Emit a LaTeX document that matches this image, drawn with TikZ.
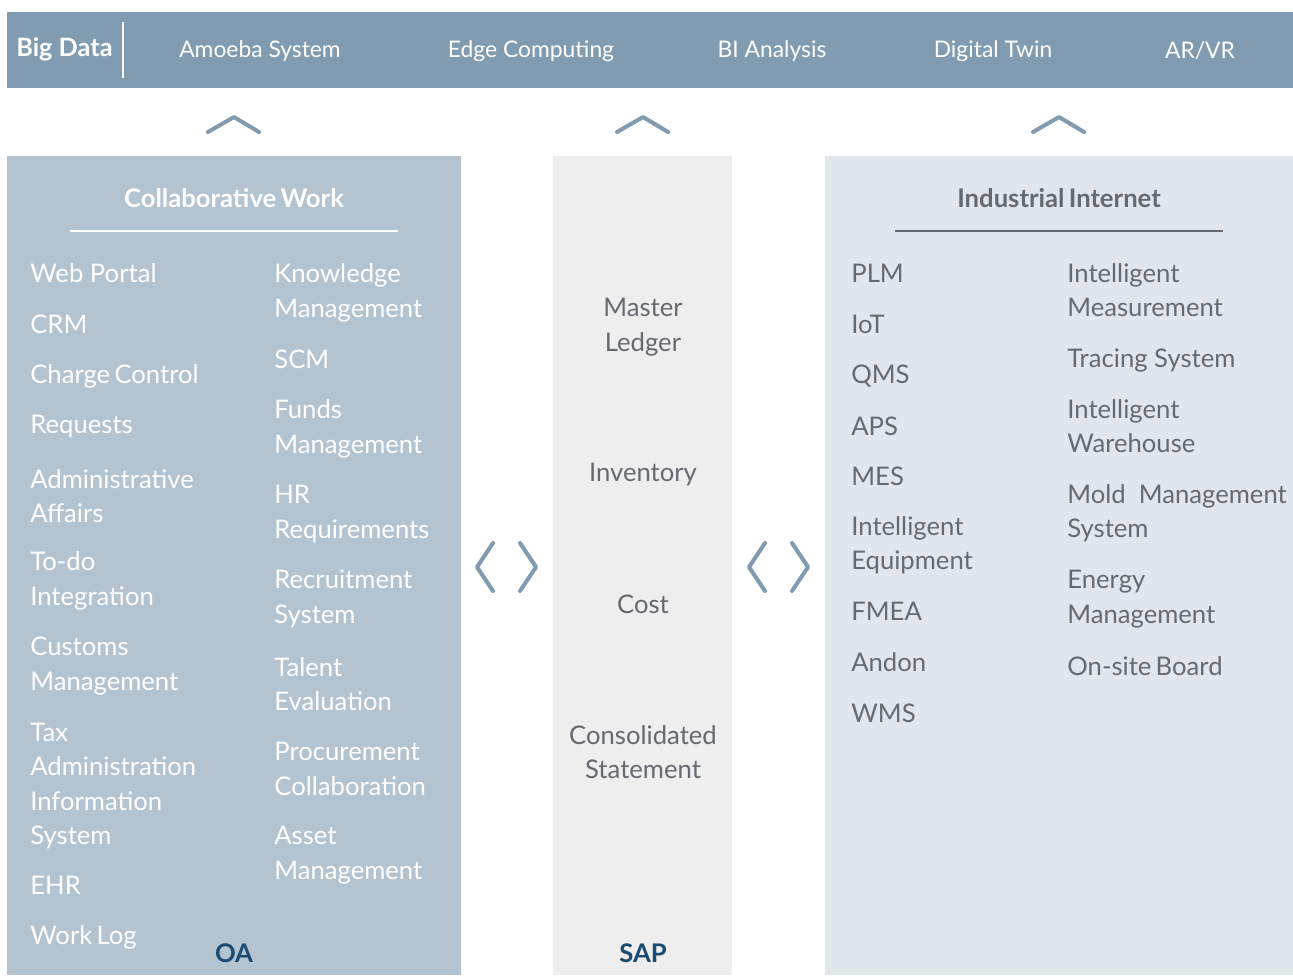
\documentclass[tikz,border=0pt]{standalone}
\usepackage{fontspec}
\setmainfont{Lato}
\usepackage{tikz}
\usetikzlibrary{positioning}

\definecolor{barblue}{HTML}{819CB0}
\definecolor{oablue}{HTML}{B3C3D0}
\definecolor{sapgray}{HTML}{EEEEEE}
\definecolor{iiblue}{HTML}{E1E6ED}
\definecolor{textgray}{HTML}{666A70}
\definecolor{darkblue}{HTML}{1B4A72}

\tikzset{
	item/.style={rectangle, anchor=west, align=left, inner sep=0pt, font=\fontsize{14.6}{19.6}\selectfont},
	oaitem/.style={item, text=white},
	iiitem/.style={item, text=textgray},
	sapitem/.style={rectangle, align=center, inner sep=0pt, text=textgray, font=\fontsize{14.6}{19.6}\selectfont},
	baritem/.style={rectangle, inner sep=0pt, text=white, font=\fontsize{13}{16}\selectfont},
	chev/.style={draw=barblue, line width=2.3pt, line cap=round, line join=round},
}

\begin{document}
\begin{tikzpicture}[x=0.02cm, y=-0.02cm]
	\useasboundingbox (0,0) rectangle (1293,975);
	% top bar
	\fill[barblue] (7,12) rectangle (1293,88);
	\node[baritem, font=\fontsize{14.4}{16}\selectfont\bfseries, anchor=west] (bigdata) at (16,49) {Big Data};
	\draw[white, line width=1.2pt] (123,22) -- (123,78);
	\node[baritem] (amoeba) at (260,51) {Amoeba System};
	\node[baritem] (edge) at (531,51) {Edge Computing};
	\node[baritem] (bi) at (772,51) {BI Analysis};
	\node[baritem] (twin) at (993,51) {Digital Twin};
	\node[baritem] (arvr) at (1200,51) {AR/VR};

	% panels
	\fill[oablue] (7,156) rectangle (461,975);
	\fill[sapgray] (553,156) rectangle (732,975);
	\fill[iiblue] (825,156) rectangle (1293,975);

	% up chevrons
	\draw[chev] (208,132) -- (234,117) -- (259,132);
	\draw[chev] (617,132) -- (643,117) -- (668,132);
	\draw[chev] (1033,132) -- (1059,117) -- (1084,132);

	% side chevrons
	\draw[chev] (493,543) -- (477,567) -- (493,591);
	\draw[chev] (520,543) -- (536,567) -- (520,591);
	\draw[chev] (765,543) -- (749,567) -- (765,591);
	\draw[chev] (792,543) -- (808,567) -- (792,591);

	% OA
	\node[rectangle, inner sep=0pt, text=white, font=\fontsize{14.6}{16}\selectfont\bfseries] (oatitle) at (234,198) {Collaborative\,Work};
	\draw[white, line width=1.2pt] (70,231) -- (398,231);
	\node[oaitem] (web) at (30,273) {Web Portal};
	\node[oaitem] (crm) at (30,324) {CRM};
	\node[oaitem] (charge) at (30,376) {Charge\,Control};
	\node[oaitem] (req) at (30,426) {Requests};
	\node[oaitem] (admin) at (30,496) {Administrative\\Affairs};
	\node[oaitem] (todo) at (30,581) {To-do\\Integration};
	\node[oaitem] (customs) at (30,666) {Customs\\Management};
	\node[oaitem] (tax) at (30,786) {Tax\\Administration\\Information\\System};
	\node[oaitem] (ehr) at (30,885) {EHR};
	\node[oaitem] (log) at (30,937) {Work\,Log};
	\node[oaitem] (know) at (274,293) {Knowledge\\Management};
	\node[oaitem] (scm) at (274,359) {SCM};
	\node[oaitem] (funds) at (274,429) {Funds\\Management};
	\node[oaitem] (hr) at (274,514) {HR\\Requirements};
	\node[oaitem] (recruit) at (274,599) {Recruitment\\System};
	\node[oaitem] (talent) at (274,684) {Talent\\Evaluation};
	\node[oaitem] (proc) at (274,769) {Procurement\\Collaboration};
	\node[oaitem] (asset) at (274,855) {Asset\\Management};
	\node[rectangle, inner sep=0pt, text=darkblue, font=\fontsize{14.6}{16}\selectfont\bfseries] (oa) at (234,953) {OA};

	% SAP
	\node[sapitem] (ledger) at (643,327) {Master\\Ledger};
	\node[sapitem] (inv) at (643,474) {Inventory};
	\node[sapitem] (cost) at (643,604) {Cost};
	\node[sapitem] (cons) at (643,752) {Consolidated\\Statement};
	\node[rectangle, inner sep=0pt, text=darkblue, font=\fontsize{14.6}{16}\selectfont\bfseries] (sap) at (643,953) {SAP};

	% Industrial Internet
	\node[rectangle, inner sep=0pt, text=textgray, font=\fontsize{14.6}{16}\selectfont\bfseries] (iititle) at (1059,198) {Industrial\,Internet};
	\draw[textgray, line width=1.2pt] (895,231) -- (1223,231);
	\node[iiitem] (plm) at (851,273) {PLM};
	\node[iiitem] (iot) at (851,324) {IoT};
	\node[iiitem] (qms) at (851,376) {QMS};
	\node[iiitem] (aps) at (851,426) {APS};
	\node[iiitem] (mes) at (851,476) {MES};
	\node[iiitem] (equip) at (851,545) {Intelligent\\Equipment};
	\node[iiitem] (fmea) at (851,611) {FMEA};
	\node[iiitem] (andon) at (851,662) {Andon};
	\node[iiitem] (wms) at (851,713) {WMS};
	\node[iiitem] (measure) at (1067,290) {Intelligent\\Measurement};
	\node[iiitem] (tracing) at (1067,360) {Tracing System};
	\node[iiitem] (wh) at (1067,426) {Intelligent\\Warehouse};
	\node[iiitem] (mold) at (1067,513) {Mold\ \ Management\\System};
	\node[iiitem] (energy) at (1067,599) {Energy\\Management};
	\node[iiitem] (board) at (1067,666) {On-site\,Board};
\end{tikzpicture}
\end{document}
